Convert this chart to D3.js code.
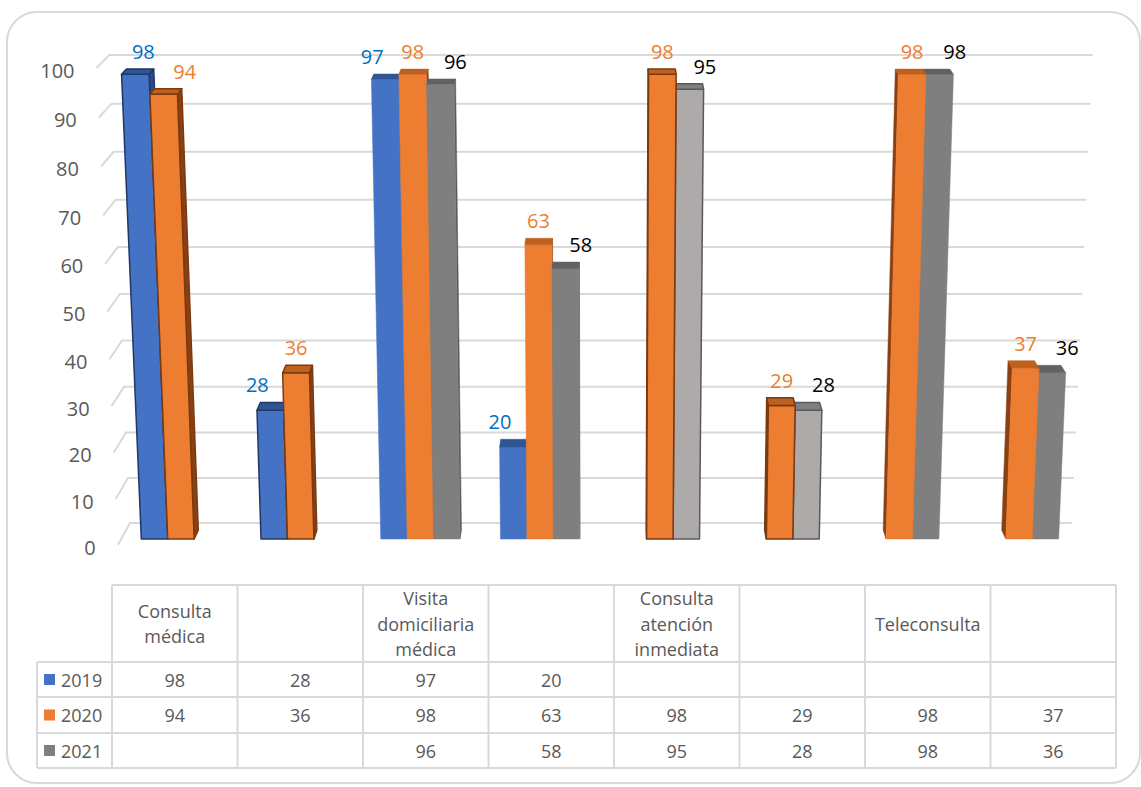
<!DOCTYPE html>
<html>
<head>
<meta charset="utf-8">
<script src="https://cdn.jsdelivr.net/npm/d3@7"></script>
<style>
  body { margin: 0; background: #fff; }
  text { font-family: "Open Sans", "Noto Sans", sans-serif; }
</style>
</head>
<body>
<svg width="1141" height="787"></svg>
<script>
// data (null = no bar / empty cell)
var categories = ['Consulta médica', '', 'Visita domiciliaria médica', '',
                  'Consulta atención inmediata', '', 'Teleconsulta', ''];
var seriesNames = ['2019', '2020', '2021'];
var values2019 = [98, 28, 97, 20, null, null, null, null];
var values2020 = [94, 36, 98, 63, 98, 29, 98, 37];
var values2021 = [null, null, 96, 58, 95, 28, 98, 36];
var yTicks = [0, 10, 20, 30, 40, 50, 60, 70, 80, 90, 100];

var allSeries = [values2019, values2020, values2021];

// colours
var frontCol = ['#4472C4', '#ED7D31', '#7F7F7F'];
var topCol   = ['#2F5597', '#C0601F', '#626262'];
var sideCol  = ['#2A4C8C', '#8A4012', '#5A5A5A'];
var lineCol  = ['#1F3864', '#7A3A10', '#595959'];
var labelCol = ['#0070C0', '#ED7D31', '#000000'];
// some category groups were drawn with outlines / lighter grey in the original
var outlined = [0, 1, 4, 5];
var lightGrey = [4, 5];

var svg = d3.select('svg');

// frame
svg.append('rect')
  .attr('x', 7).attr('y', 12).attr('width', 1133).attr('height', 771)
  .attr('rx', 30).attr('ry', 30)
  .attr('fill', '#fff').attr('stroke', '#D9D9D9').attr('stroke-width', 2);

// scales: x in "back wall floor" pixels, y as fraction of wall height
var x = d3.scaleBand().domain(d3.range(categories.length)).range([130, 1070])
  .paddingInner(0.3376).paddingOuter(0.1688);
var xs = d3.scaleBand().domain(d3.range(seriesNames.length)).range([0, x.bandwidth()]);
var y = d3.scaleLinear().domain([0, 100]).range([0, 1]);

// 3d-ish perspective: d = depth, 0 back wall, 1 front edge of floor
var cx = 601, persp = 0.958;
var proj = function(xw, t, d) {
  var w = 1 + (persp - 1) * t;
  var k = 1 + 0.026 * d;
  var yb = 523 + 22 * d, H = 468 + 9 * d;
  return [cx + (xw - cx) * k / w, yb - H * t * persp / w];
};

// gridlines with the little slanted floor piece on the left
var grid = svg.append('g');
yTicks.forEach(function(v) {
  var t = y(v);
  var pts = [proj(130, t, 1), proj(130, t, 0), proj(1072, t, 0)];
  grid.append('polyline')
    .attr('points', pts.map(function(p) { return p.join(','); }).join(' '))
    .attr('fill', 'none').attr('stroke', '#D9D9D9').attr('stroke-width', 2);
  var f = proj(130, t, 1);
  grid.append('text')
    .attr('x', f[0] - 22).attr('y', f[1] + 2)
    .attr('text-anchor', 'end').attr('dominant-baseline', 'central')
    .attr('font-size', 20).attr('fill', '#595959')
    .text(v);
});

// bars
var dF = 0.727, dB = 0.33;
var bars = [];
allSeries.forEach(function(vals, s) {
  vals.forEach(function(v, c) {
    if (v === null) return;
    var x0 = x(c) + xs(s), x1 = x0 + xs.bandwidth();
    bars.push({ s: s, c: c, v: v, x0: x0, x1: x1, mid: (x0 + x1) / 2 });
  });
});
// far-from-centre bars first so neighbours cover their sides
bars.sort(function(a, b) { return Math.abs(b.mid - cx) - Math.abs(a.mid - cx); });

var poly = function(pts) { return pts.map(function(p) { return p.join(','); }).join(' '); };

var barG = svg.append('g');
bars.forEach(function(b) {
  var t = y(b.v);
  var light = b.s === 2 && lightGrey.indexOf(b.c) >= 0;
  var out = outlined.indexOf(b.c) >= 0;
  var front = light ? '#AEAAAA' : frontCol[b.s];
  var top = light ? '#7F7F7F' : topCol[b.s];
  var side = light ? '#6E6E6E' : sideCol[b.s];
  var stroke = out ? lineCol[b.s] : null;
  var xe = b.mid < cx ? b.x1 : b.x0;
  var faces = [
    { pts: [proj(xe, 0, dF), proj(xe, t, dF), proj(xe, t, dB), proj(xe, 0, dB)], fill: side },
    { pts: [proj(b.x0, 0, dF), proj(b.x1, 0, dF), proj(b.x1, t, dF), proj(b.x0, t, dF)], fill: front },
    { pts: [proj(b.x0, t, dF), proj(b.x1, t, dF), proj(b.x1, t, dB), proj(b.x0, t, dB)], fill: top }
  ];
  faces.forEach(function(f) {
    barG.append('polygon')
      .attr('points', poly(f.pts))
      .attr('fill', f.fill)
      .attr('stroke', stroke || f.fill)
      .attr('stroke-width', stroke ? 1.5 : 0.5)
      .attr('stroke-linejoin', 'round');
  });
});

// data labels (excel spreads them a bit sideways in 3d)
var labelShift = [-13, 0, 15];
bars.forEach(function(b) {
  var t = y(b.v);
  var a = proj(b.x0, t, dF), c = proj(b.x1, t, dF), back = proj(b.x0, t, dB);
  var dx = labelShift[b.s] + (b.c === 0 ? 21 : 0);
  svg.append('text')
    .attr('x', (a[0] + c[0]) / 2 + dx)
    .attr('y', back[1] - 10)
    .attr('text-anchor', 'middle')
    .attr('font-size', 20)
    .attr('fill', labelCol[b.s])
    .text(b.v);
});

// data table
var tLeft = 112, colW = 125.5, legLeft = 37;
var rowY = [585, 662, 697, 733, 768];
var tRight = tLeft + colW * categories.length;
var tbl = svg.append('g').attr('stroke', '#D9D9D9').attr('stroke-width', 2);
tbl.append('line').attr('x1', tLeft).attr('x2', tRight).attr('y1', rowY[0]).attr('y2', rowY[0]);
rowY.slice(1).forEach(function(ry) {
  tbl.append('line').attr('x1', legLeft).attr('x2', tRight).attr('y1', ry).attr('y2', ry);
});
tbl.append('line').attr('x1', legLeft).attr('x2', legLeft).attr('y1', rowY[1]).attr('y2', rowY[4]);
d3.range(categories.length + 1).forEach(function(i) {
  var xx = tLeft + i * colW;
  tbl.append('line').attr('x1', xx).attr('x2', xx).attr('y1', rowY[0]).attr('y2', rowY[4]);
});

// header, wrapped to column width
categories.forEach(function(name, i) {
  if (!name) return;
  var cxCol = tLeft + (i + 0.5) * colW;
  var words = name.split(' ');
  var lines = [];
  var cur = '';
  var probe = svg.append('text').attr('font-size', 18);
  words.forEach(function(w) {
    var test = cur ? cur + ' ' + w : w;
    probe.text(test);
    if (probe.node().getComputedTextLength() > colW - 14 && cur) {
      lines.push(cur);
      cur = w;
    } else {
      cur = test;
    }
  });
  lines.push(cur);
  probe.remove();
  var lh = 25.5;
  var midY = (rowY[0] + rowY[1]) / 2;
  var y0 = midY - (lines.length - 1) * lh / 2;
  lines.forEach(function(l, k) {
    svg.append('text')
      .attr('x', cxCol).attr('y', y0 + k * lh)
      .attr('text-anchor', 'middle').attr('dominant-baseline', 'central')
      .attr('font-size', 18).attr('fill', '#595959')
      .text(l);
  });
});

// rows
seriesNames.forEach(function(name, s) {
  var midY = (rowY[s + 1] + rowY[s + 2]) / 2;
  svg.append('rect')
    .attr('x', 44).attr('y', midY - 5.5).attr('width', 11).attr('height', 11)
    .attr('fill', frontCol[s]);
  svg.append('text')
    .attr('x', 61).attr('y', midY)
    .attr('dominant-baseline', 'central')
    .attr('font-size', 18).attr('fill', '#595959')
    .text(name);
  allSeries[s].forEach(function(v, c) {
    if (v === null) return;
    svg.append('text')
      .attr('x', tLeft + (c + 0.5) * colW).attr('y', midY)
      .attr('text-anchor', 'middle').attr('dominant-baseline', 'central')
      .attr('font-size', 18).attr('fill', '#595959')
      .text(v);
  });
});
</script>
</body>
</html>
